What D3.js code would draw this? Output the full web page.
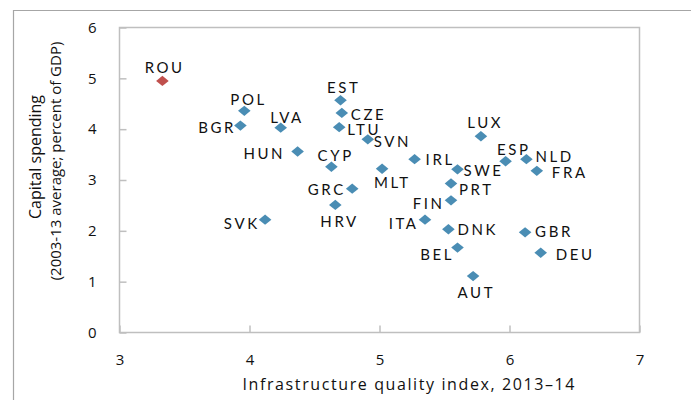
<!DOCTYPE html>
<html>
<head>
<meta charset="utf-8">
<script src="https://cdn.jsdelivr.net/npm/d3@7"></script>
<style>
  body { margin: 0; background: #fff; overflow: hidden; }
  svg { display: block; font-family: Lato, "Open Sans", sans-serif; }
</style>
</head>
<body>
<div id="chart"></div>
<script>
// country codes, infrastructure quality index (x), capital spending (y)
const countries = ["ROU", "POL", "BGR", "LVA", "HUN", "EST", "CZE", "LTU", "SVN", "CYP",
    "MLT", "GRC", "HRV", "SVK", "IRL", "SWE", "PRT", "FIN", "ITA", "DNK",
    "BEL", "AUT", "LUX", "ESP", "NLD", "FRA", "GBR", "DEU"];
const infraIndex = [3.33, 3.96, 3.93, 4.24, 4.37, 4.70, 4.71, 4.69, 4.91, 4.63,
    5.02, 4.79, 4.66, 4.12, 5.27, 5.60, 5.55, 5.55, 5.35, 5.53,
    5.60, 5.72, 5.78, 5.97, 6.13, 6.21, 6.12, 6.24];
const capSpending = [4.95, 4.36, 4.07, 4.03, 3.56, 4.57, 4.32, 4.04, 3.80, 3.26,
    3.22, 2.83, 2.51, 2.22, 3.41, 3.21, 2.93, 2.60, 2.22, 2.03,
    1.67, 1.11, 3.86, 3.37, 3.41, 3.18, 1.97, 1.57];
const highlighted = ["ROU"];

const xTicks = [3, 4, 5, 6, 7];
const yTicks = [0, 1, 2, 3, 4, 5, 6];

// label placement: [text-anchor, dx, dy to baseline]
const labelPos = {
    ROU: ["middle", 1, -8], POL: ["middle", 3, -6], BGR: ["end", -7, 7],
    LVA: ["middle", 5, -5], HUN: ["end", -15, 7], EST: ["middle", 2, -7],
    CZE: ["start", 9, 7], LTU: ["start", 8, 8], SVN: ["start", 6, 8],
    CYP: ["middle", 3, -6], MLT: ["middle", 9, 19], GRC: ["end", -9, 6],
    HRV: ["middle", 3, 22], SVK: ["end", -8, 9], IRL: ["start", 11, 6],
    SWE: ["start", 6, 7], PRT: ["start", 8, 11], FIN: ["end", -9, 9],
    ITA: ["end", -9, 9], DNK: ["start", 9, 6], BEL: ["end", -6, 12],
    AUT: ["middle", 2, 22], LUX: ["middle", 3, -8], ESP: ["middle", 7, -6],
    NLD: ["start", 9, 3], FRA: ["start", 15, 7], GBR: ["start", 10, 5],
    DEU: ["start", 15, 7]
};

const data = countries.map((c, i) => ({ code: c, x: infraIndex[i], y: capSpending[i] }));

const width = 691, height = 400;
const margin = { top: 27.5, right: 51.5, bottom: 67.5, left: 119.5 };
const innerWidth = width - margin.left - margin.right;
const innerHeight = height - margin.top - margin.bottom;

const svg = d3.select("#chart").append("svg")
    .attr("width", width)
    .attr("height", height);

// outer frame (only left and top edges visible)
svg.append("path")
    .attr("d", "M13.5,400V10.5H691")
    .attr("fill", "none")
    .attr("stroke", "#a6a6a6")
    .attr("stroke-width", 1.2);

const g = svg.append("g")
    .attr("transform", `translate(${margin.left},${margin.top})`);

const x = d3.scaleLinear().domain([3, 7]).range([0, innerWidth]);
const y = d3.scaleLinear().domain([0, 6]).range([innerHeight, 0]);

g.append("rect")
    .attr("width", innerWidth)
    .attr("height", innerHeight)
    .attr("fill", "none")
    .attr("stroke", "#bfbfbf")
    .attr("stroke-width", 1.5);

const fmt = d3.format("d");
const yAxis = g.append("g")
    .call(d3.axisLeft(y).tickValues(yTicks).tickFormat(fmt)
        .tickSizeInner(-7).tickSizeOuter(0).tickPadding(23));
const xAxis = g.append("g")
    .attr("transform", `translate(0,${innerHeight})`)
    .call(d3.axisBottom(x).tickValues(xTicks).tickFormat(fmt)
        .tickSizeInner(-7).tickSizeOuter(0).tickPadding(22));

[xAxis, yAxis].forEach((ax) => {
    ax.select(".domain").remove();
    ax.selectAll(".tick line").attr("stroke", "#bfbfbf").attr("stroke-width", 1.5);
    ax.selectAll(".tick text")
        .attr("fill", "#111")
        .attr("font-size", "15px")
        .attr("font-family", "'Open Sans', sans-serif");
});

// markers
const diamond = "M0,-5.2L6.3,0L0,5.2L-6.3,0Z";
g.selectAll(".pt")
    .data(data)
    .enter()
    .append("path")
    .attr("class", "pt")
    .attr("d", diamond)
    .attr("transform", (d) => `translate(${x(d.x)},${y(d.y)})`)
    .attr("fill", (d) => highlighted.includes(d.code) ? "#c0504d" : "#4a8db4");

// labels
const ls = 2.6;
g.selectAll(".lbl")
    .data(data)
    .enter()
    .append("text")
    .attr("class", "lbl")
    .attr("x", (d) => {
        const p = labelPos[d.code];
        const shift = p[0] === "end" ? ls : p[0] === "middle" ? ls / 2 : 0;
        return x(d.x) + p[1] + shift;
    })
    .attr("y", (d) => y(d.y) + labelPos[d.code][2])
    .attr("text-anchor", (d) => labelPos[d.code][0])
    .attr("font-size", "15px")
    .attr("letter-spacing", ls + "px")
    .attr("fill", "#111")
    .text((d) => d.code);

// axis titles
svg.append("text")
    .attr("x", 242.5)
    .attr("y", 390)
    .attr("font-size", "16px")
    .attr("font-family", "'Open Sans', sans-serif")
    .attr("fill", "#111")
    .attr("textLength", 332)
    .attr("lengthAdjust", "spacing")
    .text("Infrastructure quality index, 2013–14");

svg.append("text")
    .attr("transform", "translate(41,157) rotate(-90)")
    .attr("text-anchor", "middle")
    .attr("font-size", "16px")
    .attr("font-family", "'Open Sans', sans-serif")
    .attr("fill", "#111")
    .text("Capital spending");

svg.append("text")
    .attr("transform", "translate(61,161) rotate(-90)")
    .attr("text-anchor", "middle")
    .attr("font-size", "15px")
    .attr("font-family", "'Open Sans', sans-serif")
    .attr("fill", "#111")
    .text("(2003-13 average; percent of GDP)");
</script>
</body>
</html>
